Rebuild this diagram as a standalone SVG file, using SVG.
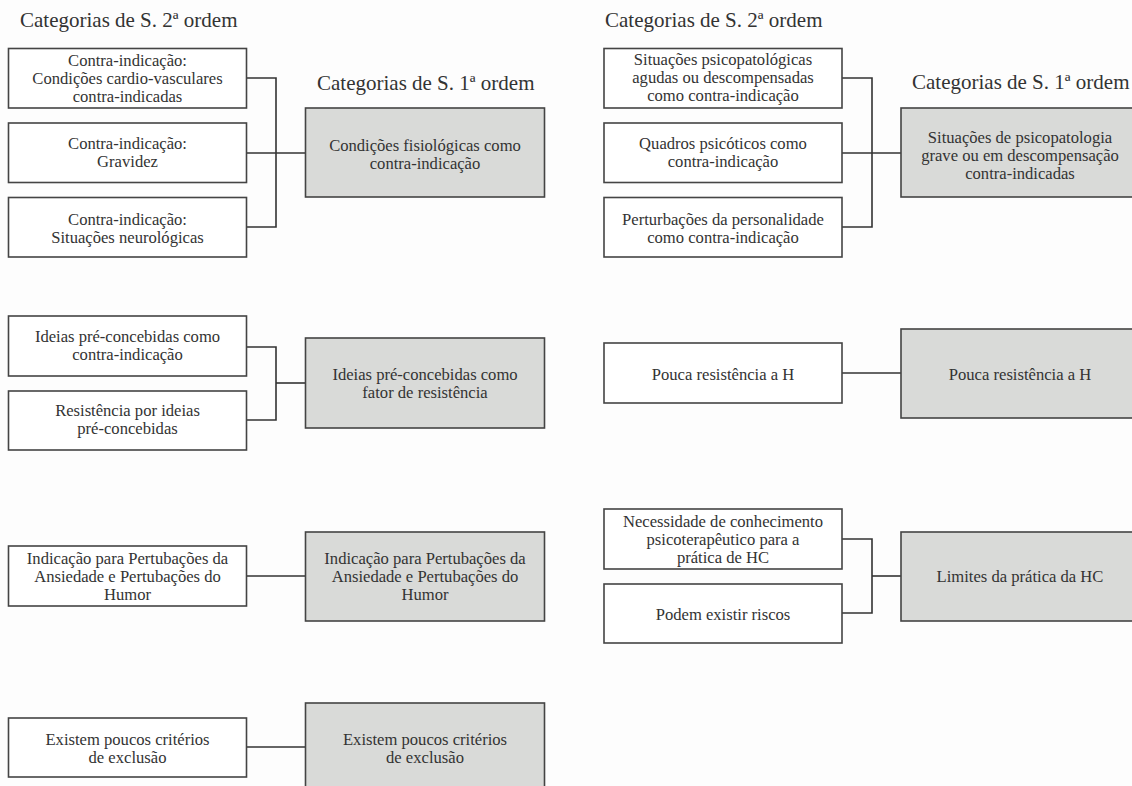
<svg xmlns="http://www.w3.org/2000/svg" width="1132" height="786" viewBox="0 0 1132 786">
  <style>
    .bg { fill: #fdfdfd; }
    .sub rect { fill: #ffffff; stroke: #444444; stroke-width: 1.6; }
    .main rect { fill: #d9dad8; stroke: #444444; stroke-width: 1.6; }
    text { font-family: "Liberation Serif", "Times New Roman", serif; fill: #333333; }
    .lbl { font-size: 16.6px; text-anchor: middle; }
    .hdr { font-size: 21px; }
    #connectors path { fill: none; stroke: #333333; stroke-width: 1.6; }
  </style>
  <rect class="bg" x="0" y="0" width="1132" height="786"/>

  <!-- column headers -->
  <g id="headers">
    <text class="hdr" x="20" y="27">Categorias de S. 2ª ordem</text>
    <text class="hdr" x="317" y="90">Categorias de S. 1ª ordem</text>
    <text class="hdr" x="605" y="27">Categorias de S. 2ª ordem</text>
    <text class="hdr" x="912" y="89">Categorias de S. 1ª ordem</text>
  </g>

  <!-- connectors -->
  <g id="connectors">
    <path d="M246.5,78 H276 V227 H246.5"/>
    <path d="M246.5,153 H305.5"/>
    <path d="M246.5,347 H276 V420 H246.5"/>
    <path d="M276,383 H305.5"/>
    <path d="M246.5,576 H305.5"/>
    <path d="M246.5,747 H305.5"/>
    <path d="M842,78 H872 V227 H842"/>
    <path d="M842,153 H901"/>
    <path d="M842,373 H901"/>
    <path d="M842,539 H872 V613 H842"/>
    <path d="M872,576 H901"/>
  </g>

  <!-- left column, second-order categories -->
  <g id="cv" class="sub">
    <rect x="8.5" y="48.5" width="238" height="59.5"/>
    <text class="lbl" x="127.5" y="66">Contra-indicação:</text>
    <text class="lbl" x="127.5" y="84">Condições cardio-vasculares</text>
    <text class="lbl" x="127.5" y="102">contra-indicadas</text>
  </g>
  <g id="gravidez" class="sub">
    <rect x="8.5" y="123" width="238" height="59.5"/>
    <text class="lbl" x="127.5" y="149">Contra-indicação:</text>
    <text class="lbl" x="127.5" y="167">Gravidez</text>
  </g>
  <g id="neuro" class="sub">
    <rect x="8.5" y="197.5" width="238" height="59.5"/>
    <text class="lbl" x="127.5" y="225">Contra-indicação:</text>
    <text class="lbl" x="127.5" y="243">Situações neurológicas</text>
  </g>
  <g id="ideias-ci" class="sub">
    <rect x="8.5" y="316" width="238" height="60"/>
    <text class="lbl" x="127.5" y="342">Ideias pré-concebidas como</text>
    <text class="lbl" x="127.5" y="360">contra-indicação</text>
  </g>
  <g id="resist-ideias" class="sub">
    <rect x="8.5" y="391" width="238" height="59"/>
    <text class="lbl" x="127.5" y="416">Resistência por ideias</text>
    <text class="lbl" x="127.5" y="434">pré-concebidas</text>
  </g>
  <g id="ansiedade" class="sub">
    <rect x="8.5" y="546" width="238" height="60"/>
    <text class="lbl" x="127.5" y="564">Indicação para Pertubações da</text>
    <text class="lbl" x="127.5" y="582">Ansiedade e Pertubações do</text>
    <text class="lbl" x="127.5" y="600">Humor</text>
  </g>
  <g id="exclusao" class="sub">
    <rect x="8.5" y="718" width="238" height="59"/>
    <text class="lbl" x="127.5" y="745">Existem poucos critérios</text>
    <text class="lbl" x="127.5" y="763">de exclusão</text>
  </g>

  <!-- left column, first-order categories -->
  <g id="fisio" class="main">
    <rect x="305.5" y="108" width="239" height="89"/>
    <text class="lbl" x="425" y="151">Condições fisiológicas como</text>
    <text class="lbl" x="425" y="169">contra-indicação</text>
  </g>
  <g id="ideias-res" class="main">
    <rect x="305.5" y="338" width="239" height="90"/>
    <text class="lbl" x="425" y="380">Ideias pré-concebidas como</text>
    <text class="lbl" x="425" y="398">fator de resistência</text>
  </g>
  <g id="ansiedade-main" class="main">
    <rect x="305.5" y="532" width="239" height="89"/>
    <text class="lbl" x="425" y="564">Indicação para Pertubações da</text>
    <text class="lbl" x="425" y="582">Ansiedade e Pertubações do</text>
    <text class="lbl" x="425" y="600">Humor</text>
  </g>
  <g id="exclusao-main" class="main">
    <rect x="305.5" y="703" width="239" height="100"/>
    <text class="lbl" x="425" y="745">Existem poucos critérios</text>
    <text class="lbl" x="425" y="763">de exclusão</text>
  </g>

  <!-- right column, second-order categories -->
  <g id="agudas" class="sub">
    <rect x="604" y="48.5" width="238" height="59.5"/>
    <text class="lbl" x="723" y="65">Situações psicopatológicas</text>
    <text class="lbl" x="723" y="83">agudas ou descompensadas</text>
    <text class="lbl" x="723" y="101">como contra-indicação</text>
  </g>
  <g id="psicoticos" class="sub">
    <rect x="604" y="123" width="238" height="59.5"/>
    <text class="lbl" x="723" y="149">Quadros psicóticos como</text>
    <text class="lbl" x="723" y="167">contra-indicação</text>
  </g>
  <g id="personalidade" class="sub">
    <rect x="604" y="197.5" width="238" height="59.5"/>
    <text class="lbl" x="723" y="225">Perturbações da personalidade</text>
    <text class="lbl" x="723" y="243">como contra-indicação</text>
  </g>
  <g id="pouca" class="sub">
    <rect x="604" y="343" width="238" height="60"/>
    <text class="lbl" x="723" y="380">Pouca resistência a H</text>
  </g>
  <g id="conhecimento" class="sub">
    <rect x="604" y="509" width="238" height="60"/>
    <text class="lbl" x="723" y="527">Necessidade de conhecimento</text>
    <text class="lbl" x="723" y="545">psicoterapêutico para a</text>
    <text class="lbl" x="723" y="563">prática de HC</text>
  </g>
  <g id="riscos" class="sub">
    <rect x="604" y="584" width="238" height="59"/>
    <text class="lbl" x="723" y="620">Podem existir riscos</text>
  </g>

  <!-- right column, first-order categories -->
  <g id="psicopatologia" class="main">
    <rect x="901" y="108" width="239" height="89"/>
    <text class="lbl" x="1020" y="143">Situações de psicopatologia</text>
    <text class="lbl" x="1020" y="161">grave ou em descompensação</text>
    <text class="lbl" x="1020" y="179">contra-indicadas</text>
  </g>
  <g id="pouca-main" class="main">
    <rect x="901" y="329" width="239" height="89"/>
    <text class="lbl" x="1020" y="380">Pouca resistência a H</text>
  </g>
  <g id="limites" class="main">
    <rect x="901" y="532" width="239" height="89"/>
    <text class="lbl" x="1020" y="582">Limites da prática da HC</text>
  </g>
</svg>
